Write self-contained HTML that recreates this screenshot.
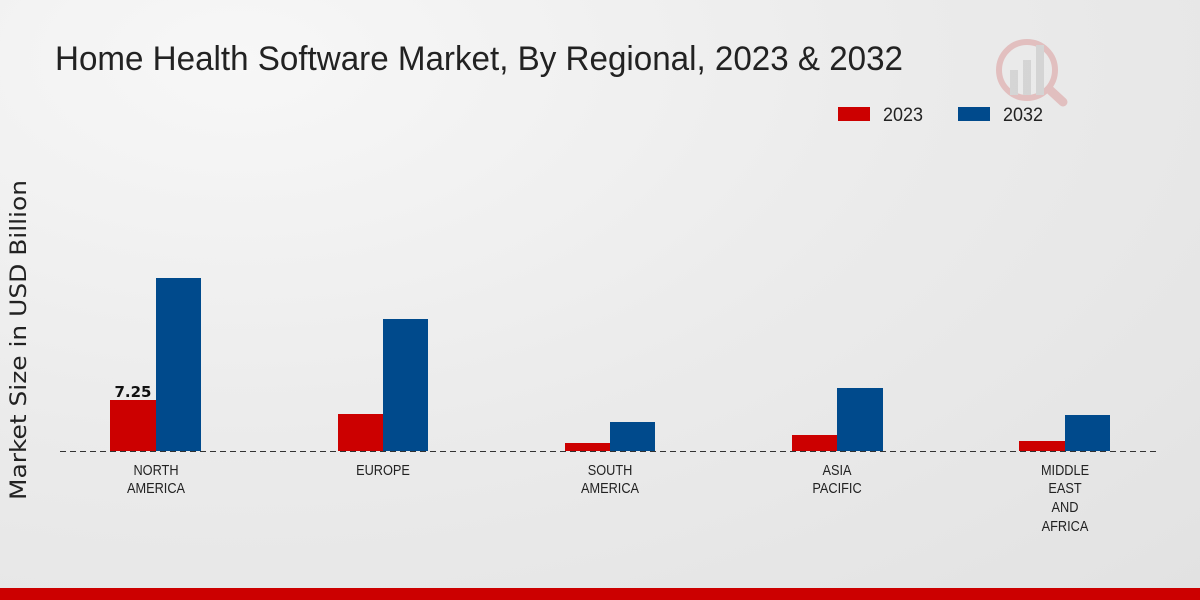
<!DOCTYPE html>
<html><head><meta charset="utf-8"><style>
body{margin:0;width:1200px;height:600px;overflow:hidden;background:radial-gradient(ellipse at 20% 10%,#f7f7f7 0%,#ebebeb 50%,#e2e2e2 100%);font-family:"Liberation Sans",sans-serif;}
</style></head><body>
<svg width="1200" height="600" xmlns="http://www.w3.org/2000/svg" style="position:absolute;left:0;top:0">
<text x="55" y="70" font-size="34" fill="#222" textLength="848" lengthAdjust="spacingAndGlyphs">Home Health Software Market, By Regional, 2023 &amp; 2032</text>
<g opacity="0.25">
<circle cx="1027" cy="70" r="28" fill="none" stroke="#c44" stroke-width="6"/>
<rect x="1010" y="70" width="8" height="25" fill="#999"/>
<rect x="1023" y="60" width="8" height="35" fill="#999"/>
<rect x="1036" y="45" width="8" height="50" fill="#999"/>
<line x1="1050" y1="90" x2="1063" y2="102" stroke="#c44" stroke-width="9" stroke-linecap="round"/>
</g>
<rect x="838" y="107" width="32" height="14" fill="#cc0000"/>
<text x="883" y="121" font-size="19" fill="#222" textLength="40" lengthAdjust="spacingAndGlyphs">2023</text>
<rect x="958" y="107" width="32" height="14" fill="#004a8c"/>
<text x="1003" y="121" font-size="19" fill="#222" textLength="40" lengthAdjust="spacingAndGlyphs">2032</text>
<text transform="translate(26,340) rotate(-90)" text-anchor="middle" font-size="22" fill="#222" font-family="DejaVu Sans, sans-serif" textLength="320" lengthAdjust="spacingAndGlyphs">Market Size in USD Billion</text>
<g fill="#cc0000">
<rect x="110" y="400" width="46" height="51"/>
<rect x="338" y="414" width="45" height="37"/>
<rect x="565" y="443" width="45" height="8"/>
<rect x="792" y="435" width="45" height="16"/>
<rect x="1019" y="441" width="46" height="10"/>
</g>
<g fill="#004a8c">
<rect x="156" y="278" width="45" height="173"/>
<rect x="383" y="319" width="45" height="132"/>
<rect x="610" y="422" width="45" height="29"/>
<rect x="837" y="388" width="46" height="63"/>
<rect x="1065" y="415" width="45" height="36"/>
</g>
<line x1="60" y1="451.5" x2="1160" y2="451.5" stroke="#333" stroke-width="1" stroke-dasharray="6,4"/>
<text x="133" y="397" text-anchor="middle" font-size="15" font-weight="bold" fill="#111" font-family="DejaVu Sans, sans-serif">7.25</text>
<g font-size="15" fill="#222" text-anchor="middle">
<g transform="translate(156,0) scale(0.85,1)"><text x="0" y="475">NORTH</text><text x="0" y="493">AMERICA</text></g>
<g transform="translate(383,0) scale(0.85,1)"><text x="0" y="475">EUROPE</text></g>
<g transform="translate(610,0) scale(0.85,1)"><text x="0" y="475">SOUTH</text><text x="0" y="493">AMERICA</text></g>
<g transform="translate(837,0) scale(0.85,1)"><text x="0" y="475">ASIA</text><text x="0" y="493">PACIFIC</text></g>
<g transform="translate(1065,0) scale(0.85,1)"><text x="0" y="475">MIDDLE</text><text x="0" y="493">EAST</text><text x="0" y="512">AND</text><text x="0" y="531">AFRICA</text></g>
</g>
<rect x="0" y="588" width="1200" height="12" fill="#cc0000"/>
</svg>
</body></html>
